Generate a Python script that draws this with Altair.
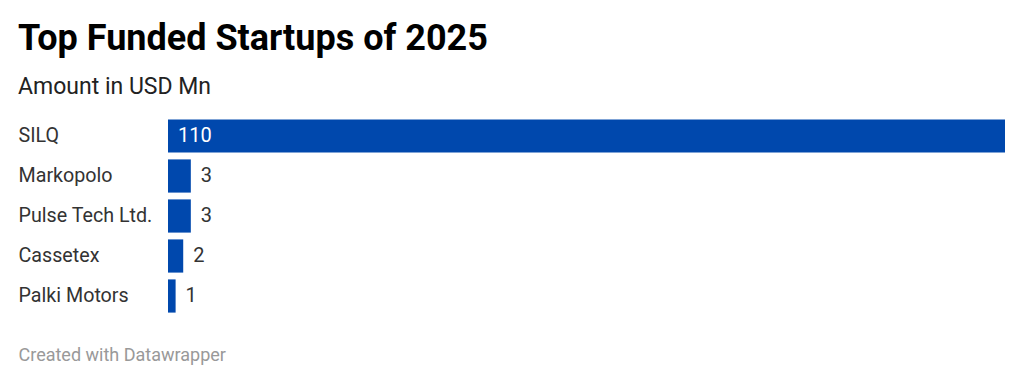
import altair as alt
import pandas as pd

companies = ["SILQ", "Markopolo", "Pulse Tech Ltd.", "Cassetex", "Palki Motors"]
amounts = [110, 3, 3, 2, 1]

df = pd.DataFrame({"company": companies, "amount": amounts})

FONT = "Roboto"
BAR = "#0048ad"

y_enc = alt.Y(
    "company:N",
    sort=companies,
    scale=alt.Scale(paddingInner=0.17, paddingOuter=0.085),
    axis=alt.Axis(
        title=None, ticks=False, domain=False, labelAlign="left",
        labelPadding=150, labelFont=FONT, labelFontSize=19.7,
        labelColor="#333333", labelLimit=200,
    ),
)
x_scale = alt.Scale(domain=[0, 110], nice=False, zero=True)
x_enc = alt.X(
    "amount:Q", scale=x_scale,
    axis=alt.Axis(
        labels=False, ticks=False, domain=False, grid=False,
        title="Created with Datawrapper", titleX=-150, titleY=44,
        titleAlign="left", titleAnchor="start", titleFont=FONT,
        titleFontSize=18, titleFontWeight="normal", titleColor="#999999",
        titleBaseline="alphabetic",
    ),
)

base = alt.Chart(df)

bars = base.mark_bar(color=BAR).encode(x=x_enc, y=y_enc)

inside = base.transform_filter("datum.amount > 50").transform_calculate(
    zero="0"
).mark_text(
    align="left", baseline="middle", dx=10, color="white", font=FONT, fontSize=20
).encode(
    x=alt.X("zero:Q", scale=x_scale), y=y_enc, text="amount:Q"
)

outside = base.transform_filter("datum.amount <= 50").mark_text(
    align="left", baseline="middle", dx=10, color="#333333", font=FONT, fontSize=20
).encode(x=alt.X("amount:Q", scale=x_scale), y=y_enc, text="amount:Q")

chart = alt.layer(bars, inside, outside).properties(
    width=837,
    height=200,
    view=alt.ViewBackground(stroke="transparent", strokeWidth=0),
    padding={"left": 18, "top": 21, "right": 18, "bottom": 10},
    title=alt.TitleParams(
        text="Top Funded Startups of 2025",
        subtitle="Amount in USD Mn",
        anchor="start", frame="bounds", font=FONT, fontSize=36,
        fontWeight="bold", color="#000000",
        subtitleFont=FONT, subtitleFontSize=23, subtitleColor="#222222",
        subtitlePadding=18, offset=16,
    ),
).configure_view(stroke="transparent", strokeWidth=0).configure(background="white")

chart.save("out.html", embed_options={"renderer": "svg", "actions": False})
